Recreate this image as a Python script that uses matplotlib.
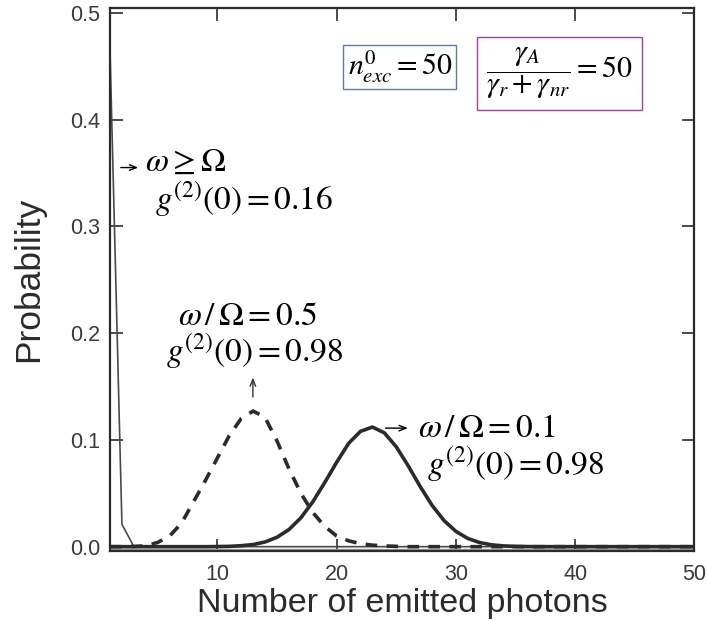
import matplotlib
matplotlib.use("Agg")
import matplotlib.pyplot as plt
import numpy as np

# number of emitted photons
n_photons = list(range(1, 51))

# omega >= Omega  (thin line)
p_high = [0.465, 0.021] + [0.0] * 48

# omega/Omega = 0.5  (dashed)
p_half = [0.0, 0.0, 0.0002, 0.0008, 0.004, 0.010, 0.022, 0.042, 0.062, 0.083,
          0.104, 0.120, 0.127, 0.121, 0.099, 0.073, 0.050, 0.032, 0.019, 0.010,
          0.0055, 0.0028, 0.0014, 0.0007, 0.0003] + [0.0] * 25

# omega/Omega = 0.1  (thick solid)
p_tenth = [0.0] * 9 + [0.0001, 0.0003, 0.0009, 0.002, 0.0044, 0.0088, 0.016,
           0.027, 0.042, 0.060, 0.079, 0.0967, 0.108, 0.112, 0.1066, 0.0935,
           0.0757, 0.0564, 0.0387, 0.0245, 0.0143, 0.0077, 0.0038, 0.0017,
           0.0007, 0.0003, 0.0001] + [0.0] * 14

xticks = [10, 20, 30, 40, 50]
yticks = [0.0, 0.1, 0.2, 0.3, 0.4, 0.5]

plt.rcParams['mathtext.fontset'] = 'stix'
plt.rcParams['font.family'] = ['Liberation Sans', 'DejaVu Sans']

fig = plt.figure(figsize=(7.06, 6.21), dpi=100)
ax = fig.add_axes([0.1558, 0.1135, 0.8279, 0.8736])

dark = '#2b2b2b'
ax.axhline(-0.0018, color='#999999', lw=1.0)
ax.plot(n_photons, p_high, color='#4a4a4a', lw=1.2)
ax.plot(n_photons, p_half, color=dark, lw=2.6, ls=(0, (3.2, 2.6)))
ax.plot(n_photons, p_tenth, color=dark, lw=2.6)

ax.set_xlim(1, 50)
ax.set_ylim(-0.0036, 0.5044)
ax.set_xticks(xticks)
ax.set_yticks(yticks)
ax.set_yticklabels(['%.1f' % v for v in yticks])
ax.tick_params(direction='in', length=9, width=1.2, top=True, right=True,
               labelsize=15.5, labelcolor='#3a3a3a', color='#2b2b2b')
ax.tick_params(axis='x', pad=10)
ax.tick_params(axis='y', pad=7)
for s in ax.spines.values():
    s.set_color('#2b2b2b')
    s.set_linewidth(1.6)

ax.set_xlabel('Number of emitted photons', fontsize=24.5, color='#2b2b2b', labelpad=2)
ax.set_ylabel('Probability', fontsize=25.5, color='#2b2b2b', labelpad=18)

fs = 24
arrow = dict(arrowstyle='->,head_length=0.5,head_width=0.2', color='black', lw=1)
ax.text(3.93, 0.3596, r'$\omega \geq \Omega$', fontsize=fs, va='center')
ax.annotate('', xy=(3.6, 0.355), xytext=(1.67, 0.355), arrowprops=arrow)
ax.text(4.77, 0.325, r'$g^{(2)}(0) = 0.16$', fontsize=fs, va='center')

ax.text(6.7, 0.216, r'$\omega\,/\,\Omega = 0.5$', fontsize=fs, va='center')
ax.text(5.69, 0.1825, r'$g^{(2)}(0) = 0.98$', fontsize=fs, va='center')
ax.annotate('', xy=(12.98, 0.161), xytext=(12.98, 0.1375),
            arrowprops=dict(arrow, color='#333333'))

ax.annotate('', xy=(26.2, 0.111), xytext=(23.86, 0.111), arrowprops=arrow)
ax.text(26.8, 0.111, r'$\omega\,/\,\Omega = 0.1$', fontsize=fs, va='center')
ax.text(27.6, 0.0766, r'$g^{(2)}(0) = 0.98$', fontsize=fs, va='center')

ax.text(25.3, 0.449, r'$n^{0}_{exc} = 50$', fontsize=21.5, ha='center', va='center',
        bbox=dict(boxstyle='square,pad=0.14', fc='white', ec='#5a7fa8', lw=1))
ax.text(38.7, 0.443, r'$\dfrac{\gamma_A}{\gamma_r + \gamma_{nr}} = 50$', fontsize=21.5,
        ha='center', va='center',
        bbox=dict(boxstyle='square,pad=0.3', fc='white', ec='#a040a0', lw=1))

fig.savefig('out.png', dpi=100)
